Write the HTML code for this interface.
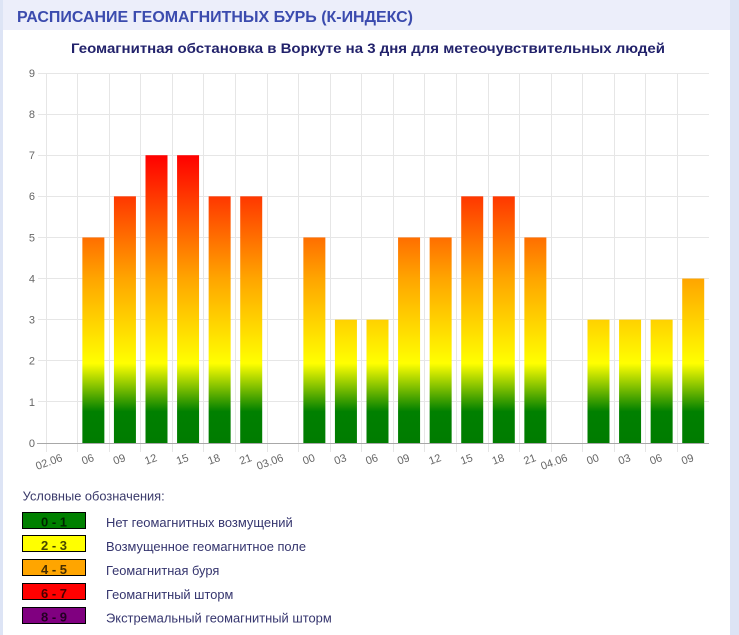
<!DOCTYPE html>
<html><head><meta charset="utf-8">
<style>
html,body{margin:0;padding:0;background:#dde4f5;}
svg{display:block;}
text{font-family:"Liberation Sans",Arial,sans-serif;}
</style></head>
<body>
<svg width="739" height="635" viewBox="0 0 739 635" xmlns="http://www.w3.org/2000/svg">
<defs>
<linearGradient id="g" gradientUnits="userSpaceOnUse" x1="0" y1="443" x2="0" y2="73">
<stop offset="0" stop-color="#007c00"/>
<stop offset="0.085" stop-color="#008000"/>
<stop offset="0.215" stop-color="#ffff00"/>
<stop offset="0.444" stop-color="#ffa500"/>
<stop offset="0.778" stop-color="#ff0000"/>
<stop offset="1" stop-color="#ff0000"/>
</linearGradient>
</defs>
<rect x="0" y="0" width="739" height="635" fill="#dde4f5"/>
<rect x="3" y="0" width="727" height="30" fill="#eceefa"/>
<rect x="3" y="30" width="727" height="605" fill="#ffffff"/>
<text x="17" y="22" font-size="16" font-weight="bold" fill="#3b4bae" textLength="396" lengthAdjust="spacingAndGlyphs">РАСПИСАНИЕ ГЕОМАГНИТНЫХ БУРЬ (К-ИНДЕКС)</text>
<text x="71" y="53" font-size="14" font-weight="bold" fill="#22226b" textLength="594" lengthAdjust="spacingAndGlyphs">Геомагнитная обстановка в Воркуте на 3 дня для метеочувствительных людей</text>

<g stroke="#e6e6e6" stroke-width="1" fill="none">
<path d="M38 73.5H709M38 114.5H709M38 155.5H709M38 196.5H709M38 237.5H709M38 278.5H709M38 319.5H709M38 360.5H709M38 401.5H709"/>
<path d="M46.5 73V452M77.5 73V452M109.5 73V452M140.5 73V452M172.5 73V452M203.5 73V452M235.5 73V452M267.5 73V452M298.5 73V452M330.5 73V452M361.5 73V452M393.5 73V452M424.5 73V452M456.5 73V452M488.5 73V452M519.5 73V452M551.5 73V452M582.5 73V452M614.5 73V452M645.5 73V452M677.5 73V452"/>
</g>

<g fill="url(#g)">
<rect x="82.36" y="237.44" width="22" height="205.56"/>
<rect x="113.93" y="196.33" width="22" height="246.67"/>
<rect x="145.5" y="155.22" width="22" height="287.78"/>
<rect x="177.07" y="155.22" width="22" height="287.78"/>
<rect x="208.64" y="196.33" width="22" height="246.67"/>
<rect x="240.21" y="196.33" width="22" height="246.67"/>
<rect x="303.36" y="237.44" width="22" height="205.56"/>
<rect x="334.93" y="319.67" width="22" height="123.33"/>
<rect x="366.5" y="319.67" width="22" height="123.33"/>
<rect x="398.07" y="237.44" width="22" height="205.56"/>
<rect x="429.64" y="237.44" width="22" height="205.56"/>
<rect x="461.21" y="196.33" width="22" height="246.67"/>
<rect x="492.79" y="196.33" width="22" height="246.67"/>
<rect x="524.36" y="237.44" width="22" height="205.56"/>
<rect x="587.5" y="319.67" width="22" height="123.33"/>
<rect x="619.07" y="319.67" width="22" height="123.33"/>
<rect x="650.64" y="319.67" width="22" height="123.33"/>
<rect x="682.21" y="278.56" width="22" height="164.44"/>
</g>

<path d="M37 443.5H709" stroke="#a8a8a8" stroke-width="1"/>

<g font-size="11" fill="#666" text-anchor="end">
<text x="35" y="443" dy="0.35em">0</text>
<text x="35" y="401.9" dy="0.35em">1</text>
<text x="35" y="360.8" dy="0.35em">2</text>
<text x="35" y="319.7" dy="0.35em">3</text>
<text x="35" y="278.6" dy="0.35em">4</text>
<text x="35" y="237.4" dy="0.35em">5</text>
<text x="35" y="196.3" dy="0.35em">6</text>
<text x="35" y="155.2" dy="0.35em">7</text>
<text x="35" y="114.1" dy="0.35em">8</text>
<text x="35" y="73" dy="0.35em">9</text>
</g>

<g font-size="11" fill="#666" text-anchor="end">
<text x="61.8" y="457" dy="0.35em" transform="rotate(-20 61.8 457)">02.06</text>
<text x="93.4" y="457" dy="0.35em" transform="rotate(-20 93.4 457)">06</text>
<text x="124.9" y="457" dy="0.35em" transform="rotate(-20 124.9 457)">09</text>
<text x="156.5" y="457" dy="0.35em" transform="rotate(-20 156.5 457)">12</text>
<text x="188.1" y="457" dy="0.35em" transform="rotate(-20 188.1 457)">15</text>
<text x="219.6" y="457" dy="0.35em" transform="rotate(-20 219.6 457)">18</text>
<text x="251.2" y="457" dy="0.35em" transform="rotate(-20 251.2 457)">21</text>
<text x="282.8" y="457" dy="0.35em" transform="rotate(-20 282.8 457)">03.06</text>
<text x="314.4" y="457" dy="0.35em" transform="rotate(-20 314.4 457)">00</text>
<text x="345.9" y="457" dy="0.35em" transform="rotate(-20 345.9 457)">03</text>
<text x="377.5" y="457" dy="0.35em" transform="rotate(-20 377.5 457)">06</text>
<text x="409.1" y="457" dy="0.35em" transform="rotate(-20 409.1 457)">09</text>
<text x="440.6" y="457" dy="0.35em" transform="rotate(-20 440.6 457)">12</text>
<text x="472.2" y="457" dy="0.35em" transform="rotate(-20 472.2 457)">15</text>
<text x="503.8" y="457" dy="0.35em" transform="rotate(-20 503.8 457)">18</text>
<text x="535.4" y="457" dy="0.35em" transform="rotate(-20 535.4 457)">21</text>
<text x="566.9" y="457" dy="0.35em" transform="rotate(-20 566.9 457)">04.06</text>
<text x="598.5" y="457" dy="0.35em" transform="rotate(-20 598.5 457)">00</text>
<text x="630.1" y="457" dy="0.35em" transform="rotate(-20 630.1 457)">03</text>
<text x="661.6" y="457" dy="0.35em" transform="rotate(-20 661.6 457)">06</text>
<text x="693.2" y="457" dy="0.35em" transform="rotate(-20 693.2 457)">09</text>
</g>

<text x="22.7" y="500.5" font-size="12.5" fill="#3a3a6a" textLength="142" lengthAdjust="spacingAndGlyphs">Условные обозначения:</text>

<g stroke="#000" stroke-width="1">
<rect x="22.5" y="512.5" width="63" height="16" fill="#008000"/>
<rect x="22.5" y="535.5" width="63" height="16" fill="#ffff00"/>
<rect x="22.5" y="559.5" width="63" height="16" fill="#ffa500"/>
<rect x="22.5" y="583.5" width="63" height="16" fill="#ff0000"/>
<rect x="22.5" y="607.5" width="63" height="16" fill="#800080"/>
</g>
<g font-size="13" font-weight="bold" fill="#000" fill-opacity="0.72" text-anchor="middle">
<text x="54" y="526.5">0 - 1</text>
<text x="54" y="549.8">2 - 3</text>
<text x="54" y="573.8">4 - 5</text>
<text x="54" y="597.8">6 - 7</text>
<text x="54" y="621.5">8 - 9</text>
</g>
<g font-size="12.5" fill="#35356e">
<text x="106" y="526.8" textLength="186.7" lengthAdjust="spacingAndGlyphs">Нет геомагнитных возмущений</text>
<text x="106" y="550.8" textLength="200" lengthAdjust="spacingAndGlyphs">Возмущенное геомагнитное поле</text>
<text x="106" y="574.8" textLength="113.3" lengthAdjust="spacingAndGlyphs">Геомагнитная буря</text>
<text x="106" y="598.8" textLength="127.3" lengthAdjust="spacingAndGlyphs">Геомагнитный шторм</text>
<text x="106" y="622.5" textLength="225.7" lengthAdjust="spacingAndGlyphs">Экстремальный геомагнитный шторм</text>
</g>
</svg>
</body></html>
